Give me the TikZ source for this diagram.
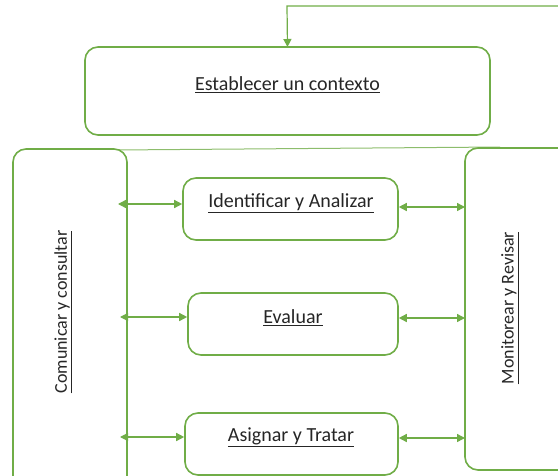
\documentclass[tikz,border=0pt]{standalone}
\usepackage{fontspec}
\setmainfont{Carlito}
\usetikzlibrary{arrows.meta}
\definecolor{ogreen}{HTML}{70AD47}
\tikzset{
  box/.style={draw=ogreen, line width=1.6pt, rounded corners=13pt, fill=white},
  lbl/.style={font=\fontsize{20}{24}\selectfont, text=black!85},
  vlbl/.style={font=\fontsize{18}{22}\selectfont, text=black!85, rotate=90},
  arr/.style={draw=ogreen, line width=1.4pt, {Triangle[length=8pt,width=8pt]}-{Triangle[length=8pt,width=8pt]}},
  arr1/.style={draw=ogreen, line width=1.2pt, -{Triangle[length=8pt,width=8pt]}}
}
\begin{document}
\begin{tikzpicture}[x=1pt,y=-1pt]
\useasboundingbox (0,0) rectangle (558,475);
% top frame line between side boxes
\coordinate (lt) at (115,150);
\coordinate (rt) at (500,147);
\draw[ogreen!80, line width=1pt] (lt) -- (rt);
% boxes
\draw[box] (85,47) rectangle (490,135);
\node[lbl] (Et) at (287.5,85) {\underline{Establecer un contexto}};
\coordinate (E) at (287.5,47);
\draw[box] (13,149) rectangle (127,490);
\coordinate (Lr) at (127,300);
\node[vlbl] (Lt) at (63,312) {\underline{Comunicar y consultar}};
\draw[box] (465,148) rectangle (575,470);
\coordinate (Rl) at (465,300);
\node[vlbl] (Rt) at (510,308) {\underline{Monitorear y Revisar}};
\node[box, minimum width=215pt, minimum height=62pt] (I) at (290.5,209) {};
\node[lbl] (It) at (291,203) {\underline{Identificar y Analizar}};
\node[box, minimum width=210pt, minimum height=62pt] (V) at (293,324) {};
\node[lbl] (Vt) at (293,318) {\underline{Evaluar}};
\node[box, minimum width=213pt, minimum height=62pt] (A) at (291.5,444) {};
\node[lbl] (At) at (291,437) {\underline{Asignar y Tratar}};
% top arrow
\coordinate (tr) at (560,6);
\draw[arr1] (tr) -- (287,6) -- (E);
% left arrows
\draw[arr] (118,204) -- (I.west |- 0,204);
\draw[arr] (120,317) -- (V.west |- 0,317);
\draw[arr] (120,437) -- (A.west |- 0,437);
% right arrows
\draw[arr] (I.east |- 0,207) -- (Rl |- 0,207);
\draw[arr] (V.east |- 0,318) -- (Rl |- 0,318);
\draw[arr] (A.east |- 0,438) -- (Rl |- 0,438);
\end{tikzpicture}
\end{document}
